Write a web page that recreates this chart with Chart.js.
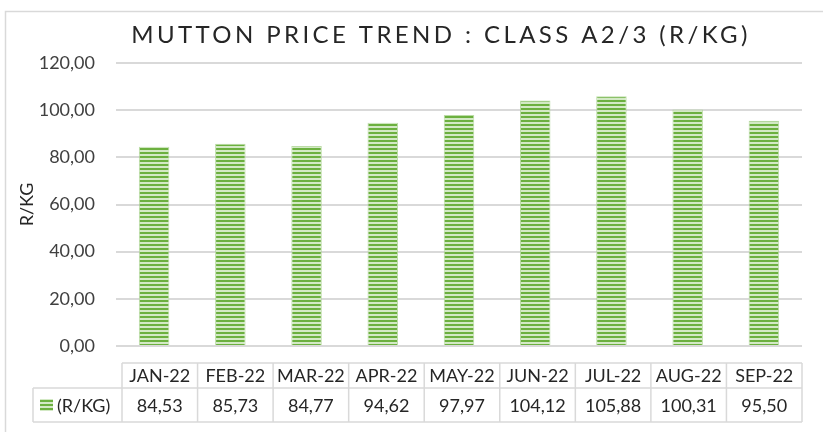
<!DOCTYPE html>
<html>
<head>
<meta charset="utf-8">
<script src="https://cdn.jsdelivr.net/npm/chart.js@4.4.0/dist/chart.umd.min.js"></script>
<style>
html,body{margin:0;padding:0;background:#fff;}
#wrap{width:823px;height:432px;position:relative;}
</style>
</head>
<body>
<div id="wrap"><canvas id="c" width="823" height="432"></canvas></div>
<script>
const categories = ['JAN-22','FEB-22','MAR-22','APR-22','MAY-22','JUN-22','JUL-22','AUG-22','SEP-22'];
const seriesName = '(R/KG)';
const prices = [84.53, 85.73, 84.77, 94.62, 97.97, 104.12, 105.88, 100.31, 95.50];
const yTicks = [0, 20, 40, 60, 80, 100, 120];
const chartTitle = 'MUTTON PRICE TREND : CLASS A2/3 (R/KG)';
const yTitle = 'R/KG';

const fmt = v => v.toFixed(2).replace('.', ',');
const FONT = 'Lato, "Open Sans", sans-serif';

function stripePattern(ctx){
  const pc = document.createElement('canvas');
  pc.width = 4; pc.height = 4;
  const p = pc.getContext('2d');
  p.fillStyle = '#d3e9c5'; p.fillRect(0,0,4,4);
  p.fillStyle = '#6cb03f'; p.fillRect(0,0,4,2);
  return ctx.createPattern(pc, 'repeat');
}

const frameAndTable = {
  id: 'frameAndTable',
  beforeDraw(chart){
    const ctx = chart.ctx;
    ctx.save();
    ctx.strokeStyle = '#d9d9d9';
    ctx.lineWidth = 1.5;
    ctx.beginPath();
    ctx.moveTo(5.5, 440); ctx.lineTo(5.5, 11.5); ctx.lineTo(830, 11.5);
    ctx.stroke();
    // title
    ctx.fillStyle = '#262626';
    ctx.font = '400 24px ' + FONT;
    ctx.letterSpacing = '3.4px';
    ctx.textAlign = 'center';
    ctx.textBaseline = 'alphabetic';
    ctx.fillText(chartTitle, 441, 43);
    ctx.restore();
  },
  afterDraw(chart){
    const ctx = chart.ctx;
    const left = 122, right = 802, colW = (right-left)/categories.length;
    const r0 = 363, r1 = 388, r2 = 422, legL = 33;
    ctx.save();
    ctx.strokeStyle = '#d9d9d9';
    ctx.lineWidth = 1.5;
    ctx.beginPath();
    ctx.moveTo(left, r0); ctx.lineTo(right, r0);
    ctx.moveTo(legL, r1); ctx.lineTo(right, r1);
    ctx.moveTo(legL, r2); ctx.lineTo(right, r2);
    ctx.moveTo(legL, r1); ctx.lineTo(legL, r2);
    for(let i=0;i<=categories.length;i++){
      const x = left + i*colW;
      ctx.moveTo(x, r0); ctx.lineTo(x, r2);
    }
    ctx.stroke();
    ctx.fillStyle = '#262626';
    ctx.font = '18px ' + FONT;
    ctx.textAlign = 'center';
    ctx.textBaseline = 'middle';
    categories.forEach((c,i)=>{
      const cx = left + (i+0.5)*colW;
      ctx.fillText(c, cx, (r0+r1)/2+1);
      ctx.fillText(fmt(prices[i]), cx, (r1+r2)/2+1);
    });
    ctx.fillStyle = stripePattern(ctx);
    ctx.fillRect(40, 399, 13, 12);
    ctx.fillStyle = '#262626';
    ctx.textAlign = 'left';
    ctx.fillText(seriesName, 57, (r1+r2)/2+1);
    ctx.restore();
  }
};

const ctx = document.getElementById('c').getContext('2d');
new Chart(ctx, {
  type: 'bar',
  data: {
    labels: categories,
    datasets: [{
      label: seriesName,
      data: prices,
      backgroundColor: stripePattern(ctx),
      borderColor: 'rgba(175,214,150,0.85)',
      borderWidth: 1,
      categoryPercentage: 1,
      barPercentage: 0.4
    }]
  },
  options: {
    responsive: false,
    animation: false,
    devicePixelRatio: 1,
    layout: { padding: { left: 0, right: 21, top: 63, bottom: 86 } },
    plugins: { legend: { display: false }, tooltip: { enabled: false }, title: { display: false } },
    scales: {
      x: { display: false, offset: true },
      y: {
        min: 0, max: 120,
        afterFit(s){ s.width = 116; },
        afterBuildTicks(s){ s.ticks = yTicks.map(v=>({value:v})); },
        ticks: {
          padding: 21,
          color: '#404040',
          font: { family: FONT, size: 18 },
          callback: v => fmt(v)
        },
        grid: { color: '#d9d9d9', lineWidth: 2, drawTicks: false },
        border: { display: false },
        title: { display: true, text: yTitle, color: '#262626', font: { family: FONT, size: 18 }, padding: { top: 16, bottom: 0 } }
      }
    }
  },
  plugins: [frameAndTable]
});
</script>
</body>
</html>
